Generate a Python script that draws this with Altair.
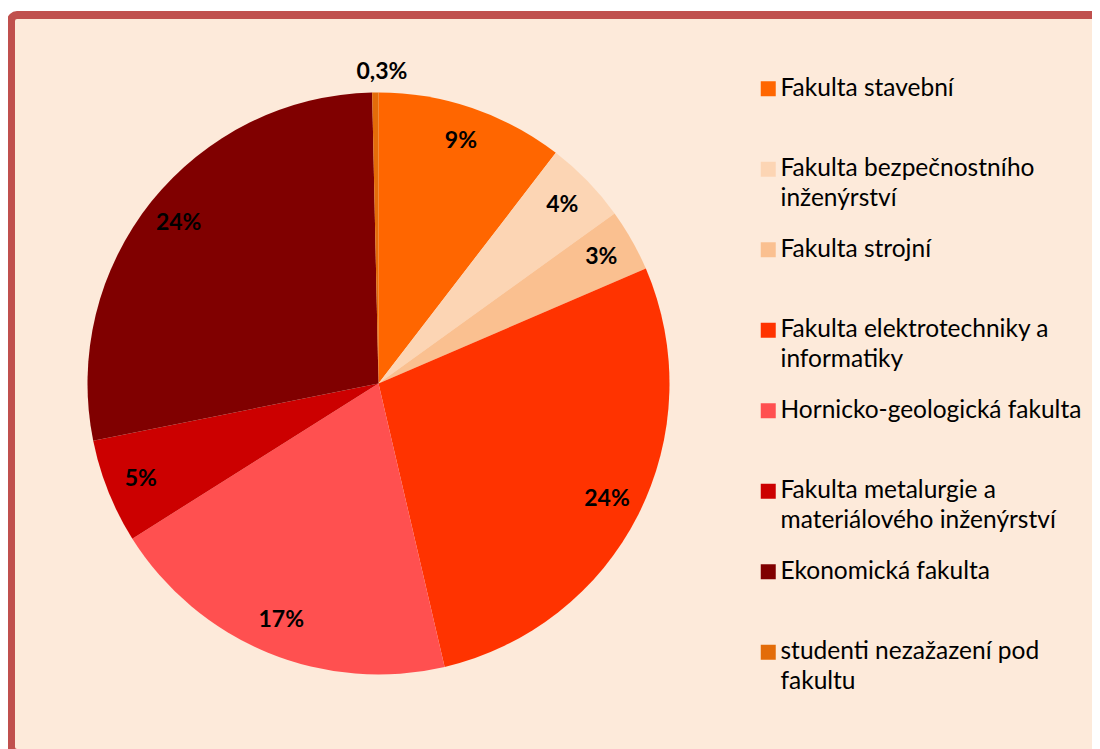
import altair as alt
import pandas as pd

categories = [
    "Fakulta stavební",
    "Fakulta bezpečnostního inženýrství",
    "Fakulta strojní",
    "Fakulta elektrotechniky a informatiky",
    "Hornicko-geologická fakulta",
    "Fakulta metalurgie a materiálového inženýrství",
    "Ekonomická fakulta",
    "studenti nezažazení pod fakultu",
]
legend_labels = [
    "Fakulta stavební| ",
    "Fakulta bezpečnostního|inženýrství",
    "Fakulta strojní| ",
    "Fakulta elektrotechniky a|informatiky",
    "Hornicko-geologická fakulta| ",
    "Fakulta metalurgie a|materiálového inženýrství",
    "Ekonomická fakulta| ",
    "studenti nezažazení pod|fakultu",
]
values = [9, 4, 3, 24, 17, 5, 24, 0.3]
value_labels = ["9%", "4%", "3%", "24%", "17%", "5%", "24%", "0,3%"]
colors = ["#FF6600", "#FCD5B4", "#FAC090", "#FF3300", "#FF5050", "#CC0000", "#800000", "#E36C09"]

df = pd.DataFrame({
    "idx": list(range(len(categories))),
    "category": categories,
    "legend": legend_labels,
    "value": values,
    "label": value_labels,
})

CX, CY = 367.5, 368.5

arcs = alt.Chart(df).mark_arc(outerRadius=291, strokeWidth=0).encode(
    theta=alt.Theta("value:Q", stack=True),
    order=alt.Order("idx:Q"),
    color=alt.Color(
        "legend:N",
        sort=legend_labels,
        scale=alt.Scale(domain=legend_labels, range=colors),
        legend=alt.Legend(
            orient="none",
            legendX=745,
            legendY=61.5,
            title=None,
            symbolType="square",
            symbolSize=225,
            symbolStrokeWidth=0,
            labelFont="Lato",
            labelFontSize=24.5,
            labelColor="black",
            labelLimit=500,
            labelOffset=0,
            rowPadding=25.5,
            padding=0,
            labelExpr="split(datum.label, '|')",
        ),
    ),
    x=alt.value(CX),
    y=alt.value(CY),
)

texts = alt.Chart(df).transform_calculate(
    r="datum.value < 1 ? 312 : 256"
).mark_text(
    font="Lato", fontWeight="bold", fontSize=23, color="black"
).encode(
    theta=alt.Theta("value:Q", stack=True),
    order=alt.Order("idx:Q"),
    text="label:N",
    radius=alt.Radius("r:Q", scale=None),
    x=alt.value(CX),
    y=alt.value(CY),
)

chart = alt.layer(arcs, texts).properties(
    width=1093,
    height=738,
    background="white",
    padding={"left": 3, "top": 7, "right": -12, "bottom": -4},
    autosize=alt.AutoSizeParams(type="none"),
).configure(
    view=alt.ViewConfig(fill="#FDEADA", stroke="#C0504D", strokeWidth=8, cornerRadius=6),
    style={"guide-label": {"lineHeight": 30}},
)

chart.save("out.html", embed_options={"renderer": "svg", "actions": False})
